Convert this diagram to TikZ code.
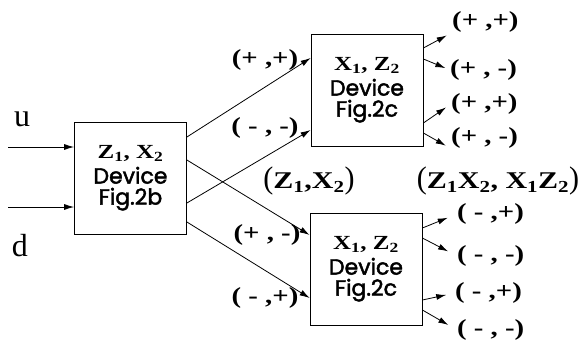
\documentclass[tikz,border=0pt]{standalone}
\usepackage{fontspec}
\setmainfont{Liberation Serif}
\newfontfamily\widebold[FakeStretch=1.25]{Liberation Serif}
\newfontfamily\devfont[FakeBold=2]{Poppins}
\usetikzlibrary{arrows.meta}
\newcommand{\lowidx}[1]{\textsubscript{#1}}
\newcommand{\bigpar}[1]{\scalebox{1}[1.3]{\mdseries#1}}
\begin{document}
\begin{tikzpicture}[x=1pt,y=-1pt,
  device/.style={draw,line width=0.8pt,minimum width=112pt,minimum height=112pt,inner sep=0pt,align=center,
    font=\devfont\fontsize{22}{21}\selectfont},
  sign/.style={inner sep=0pt,font=\widebold\bfseries\fontsize{23}{23}\selectfont},
  pair/.style={inner sep=0pt,font=\widebold\bfseries\fontsize{24}{24}\selectfont},
  wire/.style={line width=0.8pt,-{Latex[length=10pt,width=6pt]}}]
  \useasboundingbox (0,0) rectangle (586,348);
  \node [device] (devb) at (130.5,178) {{\widebold\bfseries\fontsize{20}{20}\selectfont Z\lowidx{1}, X\lowidx{2}}\\[4pt]Device\\Fig.2b};
  \node [device] (devc1) at (367,90) {{\widebold\bfseries\fontsize{20}{20}\selectfont X\lowidx{1}, Z\lowidx{2}}\\[4pt]Device\\Fig.2c};
  \node [device] (devc2) at (366,269) {{\widebold\bfseries\fontsize{20}{20}\selectfont X\lowidx{1}, Z\lowidx{2}}\\[4pt]Device\\Fig.2c};
  \node [font=\fontsize{32}{32}\selectfont,inner sep=0pt] (u) at (22,119) {u};
  \node [font=\fontsize{32}{32}\selectfont,inner sep=0pt] (d) at (20,246) {d};
  \coordinate (uin) at (8,147);
  \coordinate (din) at (8,207);
  \draw [wire] (uin) -- ([yshift=31pt]devb.west);
  \draw [wire] (din) -- ([yshift=-29pt]devb.west);
  \draw [wire] ([yshift=41pt]devb.east) -- ([yshift=32pt]devc1.west);
  \draw [wire] ([yshift=18pt]devb.east) -- ([yshift=34pt]devc2.west);
  \draw [wire] ([yshift=-25pt]devb.east) -- ([yshift=-40pt]devc1.west);
  \draw [wire] ([yshift=-44pt]devb.east) -- ([yshift=-29pt]devc2.west);
  \node [sign] (ipp) at (265,60) {(+ ,+)};
  \node [sign] (imm) at (265,128) {( - , -)};
  \node [sign] (ipm) at (267,235) {(+ , -)};
  \node [sign] (imp) at (265,298) {( - ,+)};
  \node [pair] (zx) at (309,181) {\bigpar{(}Z\lowidx{1},X\lowidx{2}\bigpar{)}};
  \node [pair] (zxxz) at (498,181) {\bigpar{(}Z\lowidx{1}X\lowidx{2}, X\lowidx{1}Z\lowidx{2}\bigpar{)}};
  \node [sign,anchor=west] (o1) at (452,22) {(+ ,+)};
  \node [sign,anchor=west] (o2) at (450,70) {(+ , -)};
  \node [sign,anchor=west] (o3) at (451,104) {(+ ,+)};
  \node [sign,anchor=west] (o4) at (451,138) {(+ , -)};
  \node [sign,anchor=west] (o5) at (457,214) {( - ,+)};
  \node [sign,anchor=west] (o6) at (457,256) {( - , -)};
  \node [sign,anchor=west] (o7) at (455,293) {( - ,+)};
  \node [sign,anchor=west] (o8) at (457,330) {( - , -)};
  \draw [wire,shorten >=6pt] ([yshift=42pt]devc1.east) -- (o1.south west);
  \draw [wire,shorten >=5pt] ([yshift=31pt]devc1.east) -- (o2.west);
  \draw [wire,shorten >=6pt] ([yshift=-33pt]devc1.east) -- (o3.west);
  \draw [wire,shorten >=6pt] ([yshift=-43pt]devc1.east) -- (o4.south west);
  \draw [wire,shorten >=10pt] ([yshift=41pt]devc2.east) -- (o5.west);
  \draw [wire,shorten >=10pt] ([yshift=31pt]devc2.east) -- (o6.west);
  \draw [wire,shorten >=9pt] ([yshift=-31pt]devc2.east) -- (o7.west);
  \draw [wire,shorten >=10pt] ([yshift=-41pt]devc2.east) -- (o8.west);
\end{tikzpicture}
\end{document}
